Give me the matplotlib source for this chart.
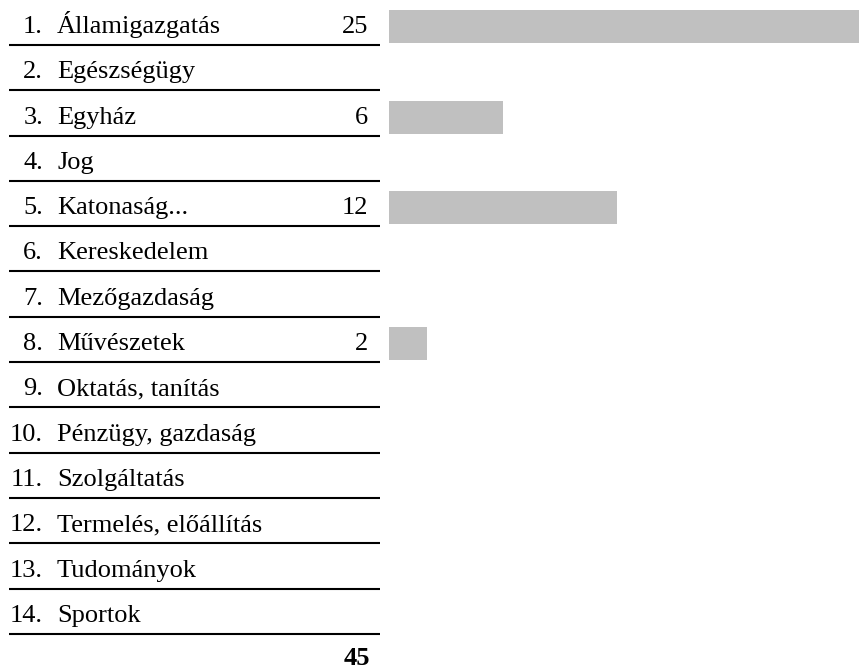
import matplotlib.pyplot as plt

categories = [
    "Államigazgatás", "Egészségügy", "Egyház", "Jog", "Katonaság...",
    "Kereskedelem", "Mezőgazdaság", "Művészetek", "Oktatás, tanítás",
    "Pénzügy, gazdaság", "Szolgáltatás", "Termelés, előállítás",
    "Tudományok", "Sportok",
]
values = [25, 0, 6, 0, 12, 0, 0, 2, 0, 0, 0, 0, 0, 0]

plt.rcParams['font.family'] = ['Liberation Serif', 'DejaVu Serif']

fig = plt.figure(figsize=(8.59, 6.70), dpi=100)
ax = fig.add_axes([0, 0, 1, 1])
ax.set_xlim(-20.47, 24.74)
ax.set_ylim(14.205, -0.585)
ax.axis('off')

rows = range(len(categories))
ax.barh(list(rows), values, height=0.73, color='#c0c0c0', edgecolor='none')

fs = 19
for i, (name, v) in enumerate(zip(categories, values)):
    base = i + 0.143
    ax.text(-18.21, base, f"{i + 1}.", ha='right', va='baseline', fontsize=fs)
    ax.text(-17.47, base, name, ha='left', va='baseline', fontsize=fs)
    if v:
        ax.text(-1.105, base, str(v), ha='right', va='baseline', fontsize=fs)
    ax.plot([-20.0, -0.47], [i + 0.408, i + 0.408], color='black', lw=1.5,
            solid_capstyle='butt')

ax.text(-1.0, 14.09, str(sum(values)), ha='right', va='baseline',
        fontsize=fs, fontweight='bold')

fig.savefig('out.png', dpi=100)
